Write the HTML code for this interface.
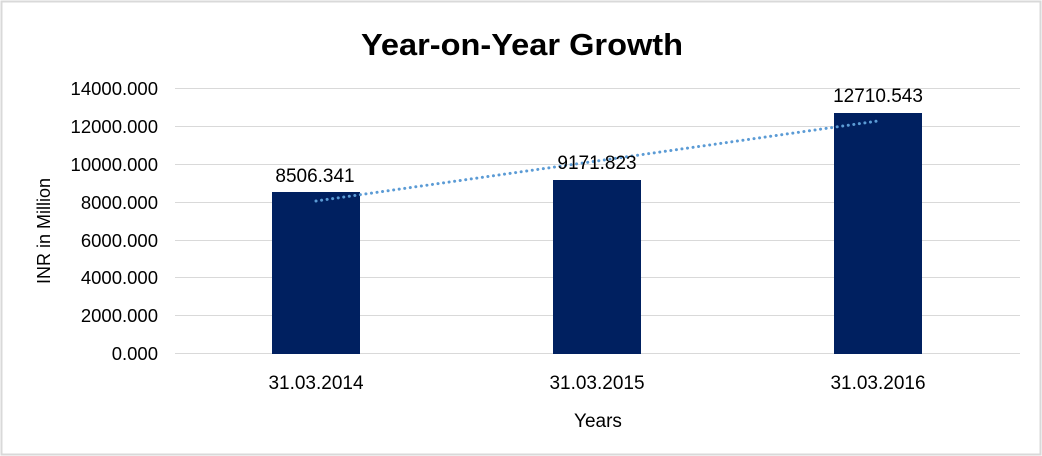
<!DOCTYPE html>
<html><head><meta charset="utf-8"><style>
html,body{margin:0;padding:0;background:#fff}
svg{display:block}
</style></head><body>
<svg width="1042" height="456" xmlns="http://www.w3.org/2000/svg" font-family="Liberation Sans, Arial, sans-serif">
<rect x="1.5" y="1.5" width="1039" height="453" fill="#fff" stroke="#d9d9d9" stroke-width="2"/>
<text x="522" y="55" text-anchor="middle" font-size="31" font-weight="bold" fill="#000" font-family="Liberation Sans, sans-serif" textLength="322" lengthAdjust="spacingAndGlyphs">Year-on-Year Growth</text>
<g stroke="#d9d9d9" stroke-width="1">
<line x1="175" x2="1020" y1="88.5" y2="88.5"/>
<line x1="175" x2="1020" y1="126.5" y2="126.5"/>
<line x1="175" x2="1020" y1="164.5" y2="164.5"/>
<line x1="175" x2="1020" y1="202.5" y2="202.5"/>
<line x1="175" x2="1020" y1="240.5" y2="240.5"/>
<line x1="175" x2="1020" y1="277.5" y2="277.5"/>
<line x1="175" x2="1020" y1="315.5" y2="315.5"/>
<line x1="175" x2="1020" y1="353.5" y2="353.5"/>
</g>
<g font-size="18.5" fill="#000" text-anchor="end">
<text x="158" y="95">14000.000</text>
<text x="158" y="133">12000.000</text>
<text x="158" y="171">10000.000</text>
<text x="158" y="209">8000.000</text>
<text x="158" y="247">6000.000</text>
<text x="158" y="284">4000.000</text>
<text x="158" y="322">2000.000</text>
<text x="158" y="360">0.000</text>
</g>
<g fill="#002060">
<rect x="272" y="192" width="88" height="162"/>
<rect x="553" y="180" width="88" height="174"/>
<rect x="834" y="113" width="88" height="241"/>
</g>
<line x1="316" y1="201" x2="878" y2="121" stroke="#5b9bd5" stroke-width="3" stroke-dasharray="0.1 5.5" stroke-linecap="round"/>
<g font-size="19" fill="#000" text-anchor="middle">
<text x="315" y="182">8506.341</text>
<text x="597" y="169">9171.823</text>
<text x="878" y="102">12710.543</text>
<text x="316" y="389">31.03.2014</text>
<text x="597" y="389">31.03.2015</text>
<text x="878" y="389">31.03.2016</text>
<text x="598" y="427">Years</text>
</g>
<text transform="translate(50,231) rotate(-90)" font-size="18" text-anchor="middle" fill="#000">INR in Million</text>
</svg>
</body></html>
